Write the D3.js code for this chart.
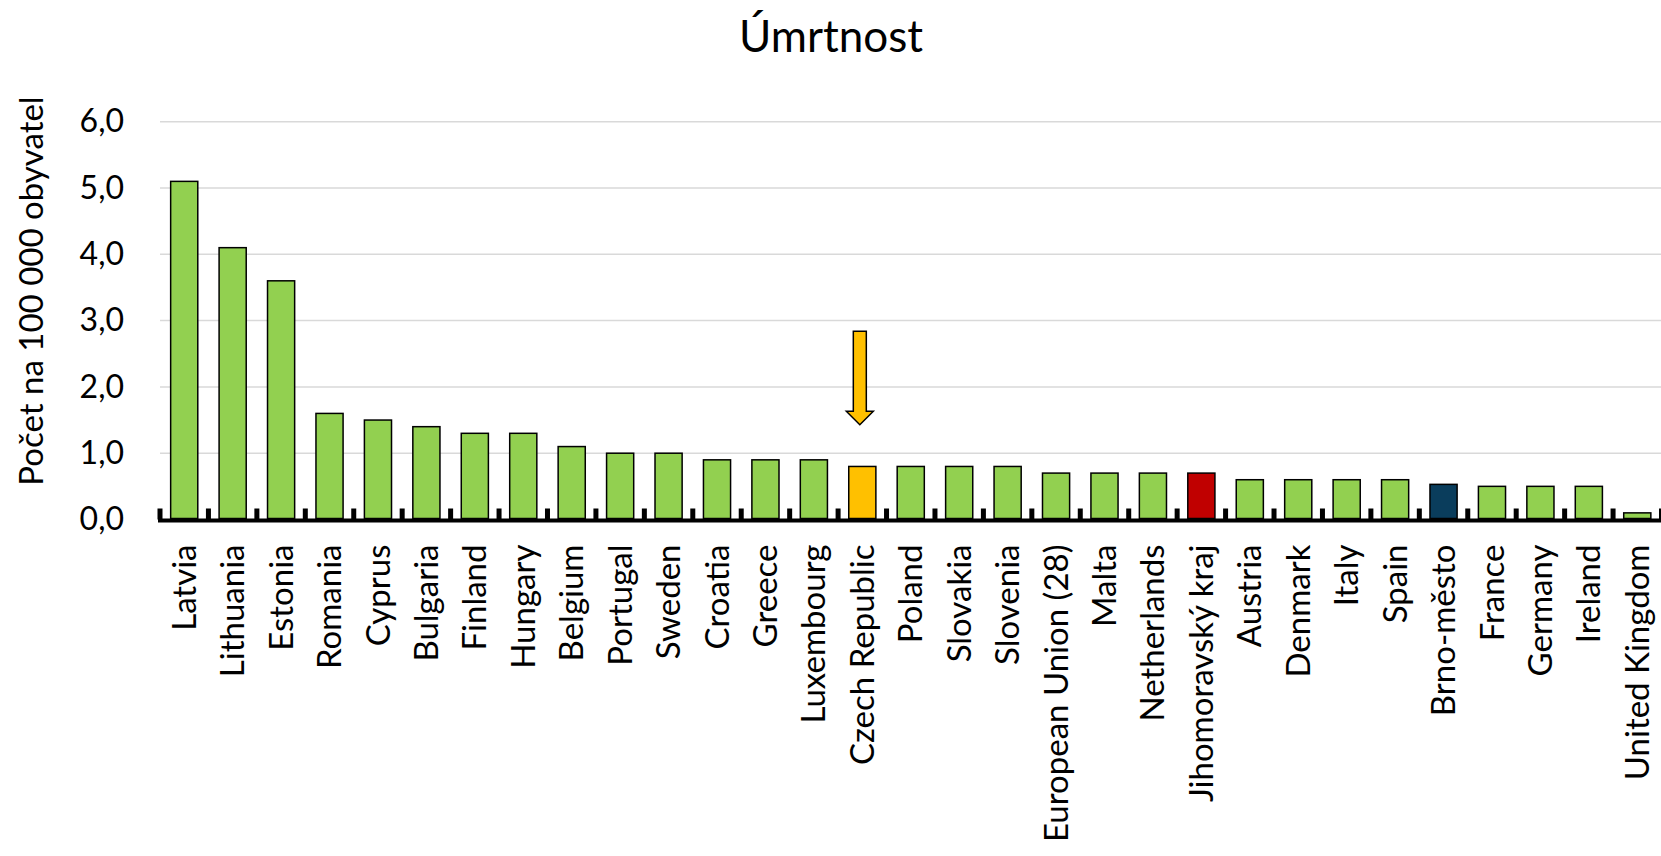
<!DOCTYPE html>
<html>
<head>
<meta charset="utf-8">
<script src="https://cdnjs.cloudflare.com/ajax/libs/d3/7.8.5/d3.min.js"></script>
<style>
  body { margin: 0; background: #fff; }
  svg { display: block; font-family: Lato, "Noto Sans", sans-serif; }
</style>
</head>
<body>
<div id="chart"></div>
<script>
// chart data
var countries = ['Latvia', 'Lithuania', 'Estonia', 'Romania', 'Cyprus', 'Bulgaria', 'Finland',
    'Hungary', 'Belgium', 'Portugal', 'Sweden', 'Croatia', 'Greece', 'Luxembourg',
    'Czech Republic', 'Poland', 'Slovakia', 'Slovenia', 'European Union (28)', 'Malta',
    'Netherlands', 'Jihomoravský kraj', 'Austria', 'Denmark', 'Italy', 'Spain',
    'Brno-město', 'France', 'Germany', 'Ireland', 'United Kingdom'];
var values = [5.1, 4.1, 3.6, 1.6, 1.5, 1.4, 1.3, 1.3, 1.1, 1.0, 1.0, 0.9, 0.9, 0.9,
    0.8, 0.8, 0.8, 0.8, 0.7, 0.7, 0.7, 0.7, 0.6, 0.6, 0.6, 0.6, 0.53, 0.5, 0.5, 0.5, 0.1];
var yTicks = [0, 1, 2, 3, 4, 5, 6];
var highlight = {
    'Czech Republic': '#ffc000',
    'Jihomoravský kraj': '#c00000',
    'Brno-město': '#0a3d5c'
};
// arrow pointing at Czech Republic (top and tip in data units)
var arrowTarget = 'Czech Republic';
var arrowTop = 2.84, arrowTip = 1.43;

var width = 1661, height = 856;
var margin = { top: 121.7, left: 160, right: -0.5, bottom: 336.5 };

var svg = d3.select('#chart')
    .append('svg')
    .attr('width', width)
    .attr('height', height);

var x = d3.scaleBand()
    .domain(countries)
    .range([margin.left, width - margin.right])
    .paddingInner(0.44)
    .paddingOuter(0.22);

var y = d3.scaleLinear()
    .domain([0, 6])
    .range([height - margin.bottom, margin.top]);

var locale = d3.formatLocale({ decimal: ',', thousands: ' ', grouping: [3], currency: ['', ''] });
var fmt = locale.format('.1f');

// title
svg.append('text')
    .attr('x', 831)
    .attr('y', 52)
    .attr('text-anchor', 'middle')
    .style('font-size', '44px')
    .text('Úmrtnost');

// gridlines
svg.append('g')
    .selectAll('line')
    .data(yTicks.slice(1))
    .enter()
    .append('line')
    .attr('x1', margin.left)
    .attr('x2', width)
    .attr('y1', function(d) { return y(d); })
    .attr('y2', function(d) { return y(d); })
    .attr('stroke', '#d9d9d9')
    .attr('stroke-width', 1.5);

// y axis labels
var yAxis = svg.append('g')
    .attr('transform', 'translate(' + 124 + ',0)')
    .call(d3.axisLeft(y).tickValues(yTicks).tickFormat(fmt).tickSize(0).tickPadding(0));
yAxis.select('.domain').remove();
yAxis.selectAll('text')
    .style('font-size', '32px')
    .style('font-family', 'Lato, sans-serif')
    .attr('fill', '#000');

// y axis title
svg.append('text')
    .attr('transform', 'translate(43,291) rotate(-90)')
    .attr('text-anchor', 'middle')
    .style('font-size', '33px')
    .text('Počet na 100 000 obyvatel');

// bars
svg.append('g')
    .selectAll('rect')
    .data(countries)
    .enter()
    .append('rect')
    .attr('x', function(d) { return x(d); })
    .attr('width', x.bandwidth())
    .attr('y', function(d, i) { return y(values[i]); })
    .attr('height', function(d, i) { return y(0) - y(values[i]) - 1; })
    .attr('fill', function(d) { return highlight[d] || '#92d050'; })
    .attr('stroke', '#000')
    .attr('stroke-width', 1.5);

// baseline and tick marks at category boundaries
var step = x.step();
var x0 = x.range()[0];
svg.append('line')
    .attr('x1', margin.left - 2)
    .attr('x2', width)
    .attr('y1', y(0) + 1)
    .attr('y2', y(0) + 1)
    .attr('stroke', '#000')
    .attr('stroke-width', 4);

svg.append('g')
    .selectAll('rect')
    .data(d3.range(countries.length + 1))
    .enter()
    .append('rect')
    .attr('x', function(i) { return x0 + i * step - 2.5; })
    .attr('y', y(0) - 11)
    .attr('width', 5)
    .attr('height', 11)
    .attr('fill', '#000');

// x axis labels
var xAxis = svg.append('g')
    .attr('transform', 'translate(0,' + (y(0) + 25) + ')')
    .call(d3.axisBottom(x).tickSize(0).tickPadding(0));
xAxis.select('.domain').remove();
xAxis.selectAll('text')
    .attr('transform', 'rotate(-90)')
    .attr('text-anchor', 'end')
    .attr('x', 0)
    .attr('y', 0)
    .attr('dy', '0.35em')
    .attr('fill', '#000')
    .style('font-size', '33px')
    .style('font-family', 'Lato, sans-serif');

// arrow annotation
var ax = x(arrowTarget) + x.bandwidth() / 2 - 2.5;
var shaft = 6.5, head = 13.5, headH = 13.5;
var yt = y(arrowTop), yp = y(arrowTip);
var pts = [
    [ax - shaft, yt], [ax + shaft, yt], [ax + shaft, yp - headH],
    [ax + head, yp - headH], [ax, yp], [ax - head, yp - headH],
    [ax - shaft, yp - headH]
];
svg.append('polygon')
    .attr('points', pts.map(function(p) { return p.join(','); }).join(' '))
    .attr('fill', '#ffc000')
    .attr('stroke', '#000')
    .attr('stroke-width', 1.5)
    .attr('stroke-linejoin', 'miter');
</script>
</body>
</html>
